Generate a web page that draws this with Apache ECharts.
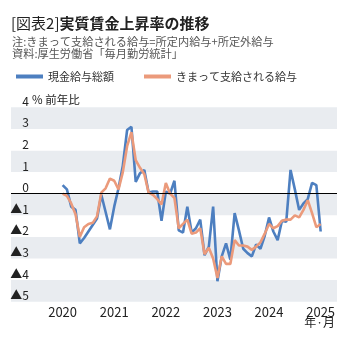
<!DOCTYPE html>
<html>
<head>
<meta charset="utf-8">
<script src="https://cdn.jsdelivr.net/npm/echarts@6/dist/echarts.min.js"></script>
<style>
  html, body { margin: 0; padding: 0; background: #fff; }
  #chart { width: 346px; height: 337px; }
</style>
</head>
<body>
<div id="chart"></div>
<script>
// Monthly series, Jan 2020 - Jan 2025 (year-on-year %, real terms)
const yearLabels = ['2020', '2021', '2022', '2023', '2024', '2025'];

// 現金給与総額
const totalCash = [
  0.4, 0.2, -0.6, -0.75, -2.3, -2.05, -1.75, -1.45, -1.15, -0.05, -0.85, -1.65,
  -0.6, 0.25, 1.3, 2.95, 3.1, 0.55, 0.95, 1.1, 0.05, 0.1, 0.1, -1.25,
  0.1, 0.0, 0.6, -1.7, -1.8, -0.6, -1.8, -1.6, -1.2, -2.85, -2.45, -0.6,
  -4.05, -2.9, -2.3, -3.05, -0.9, -1.7, -2.55, -2.75, -2.9, -2.35, -2.55, -1.95,
  -1.1, -1.75, -2.15, -1.25, -1.3, 1.1, 0.2, -0.75, -0.45, -0.25, 0.5, 0.4,
  -1.75
];

// きまって支給される給与
const regularPay = [
  0.0, -0.1, -0.45, -0.95, -2.0, -1.55, -1.4, -1.35, -1.05, 0.05, 0.25, 0.7,
  0.6, 0.2, 1.0, 2.2, 2.85, 1.55, 1.2, 0.9, 0.05, -0.05, -0.25, -0.5,
  0.5, 0.0, -0.2, -1.6, -1.4, -1.2, -1.85, -1.8, -1.6, -2.8, -2.5, -3.0,
  -3.9, -2.9, -3.25, -3.25, -2.15, -2.4, -2.4, -2.45, -2.6, -2.45, -2.25, -1.85,
  -1.4, -1.6, -1.5, -1.25, -1.2, -1.2, -1.0, -1.1, -0.75, -0.3, -0.9, -1.55,
  -1.4
];

const FONT = '"Noto Sans CJK JP", "Noto Sans", sans-serif';
const BLUE = '#4d7fc0';
const ORANGE = '#eb9a7b';

// month index (0 = Jan 2020) paired with value
const toPoints = arr => arr.map((v, i) => [i, v]);

const chart = echarts.init(document.getElementById('chart'), null, { renderer: 'canvas' });

chart.setOption({
  animation: false,
  backgroundColor: '#fff',
  textStyle: { fontFamily: FONT },
  title: [
    {
      left: 11, top: 16, padding: 0,
      text: '{a|[図表2]}{b|実質賃金上昇率の推移}',
      textStyle: {
        rich: {
          a: { fontFamily: FONT, fontSize: 15, fontWeight: 'normal', color: '#222' },
          b: { fontFamily: FONT, fontSize: 15, fontWeight: 'bold', color: '#222' }
        }
      }
    },
    {
      left: 12, top: 36, padding: 0,
      text: '注:きまって支給される給与=所定内給与+所定外給与\n資料:厚生労働省「毎月勤労統計」',
      textStyle: { fontFamily: FONT, fontSize: 11.2, fontWeight: 'normal', color: '#555', lineHeight: 12 }
    },
    {
      // unit caption beside the top tick label
      left: 32, top: 94, padding: 0,
      text: '% 前年比',
      textStyle: { fontFamily: FONT, fontSize: 11.5, fontWeight: 'normal', color: '#222' }
    },
    {
      // x-axis unit under the last year label
      right: 11, top: 316, padding: 0,
      text: '年·月',
      textStyle: { fontFamily: FONT, fontSize: 12, fontWeight: 'normal', color: '#222' }
    }
  ],
  legend: {
    left: 11, top: 66,
    icon: 'rect',
    itemWidth: 27, itemHeight: 4,
    itemGap: 30,
    textStyle: { fontFamily: FONT, fontSize: 11, color: '#333' },
    data: ['現金給与総額', 'きまって支給される給与']
  },
  grid: { left: 11, right: 9, top: 107.3, bottom: 35.3, containLabel: false, outerBoundsMode: 'none' },
  xAxis: {
    type: 'value',
    min: -12, max: 63.8, interval: 12,
    axisLine: { show: false, onZero: false },
    axisTick: { show: false },
    splitLine: { show: false },
    axisLabel: {
      margin: 4,
      fontFamily: FONT, fontSize: 13, color: '#222',
      showMaxLabel: false,
      formatter: v => (v >= 0 ? (yearLabels[v / 12] || '') : '')
    }
  },
  yAxis: {
    type: 'value',
    min: -5, max: 4, interval: 1,
    axisLine: { show: false },
    axisTick: { show: false },
    splitLine: { show: false },
    splitArea: { show: true, areaStyle: { color: ['#e9ecf0', '#ffffff'] } },
    axisLabel: {
      inside: true,
      margin: 18,
      align: 'right',
      verticalAlign: 'bottom',
      fontFamily: FONT, fontSize: 12, color: '#222',
      formatter: v => (v < 0 ? '▲' + (-v) : String(v))
    }
  },
  series: [
    {
      name: '現金給与総額',
      type: 'line',
      data: toPoints(totalCash),
      symbol: 'none',
      lineStyle: { color: BLUE, width: 2.6 },
      itemStyle: { color: BLUE },
      z: 2,
      markLine: {
        silent: true,
        symbol: 'none',
        label: { show: false },
        lineStyle: { color: '#000', width: 1, type: 'solid' },
        data: [{ yAxis: 0 }]
      }
    },
    {
      name: 'きまって支給される給与',
      type: 'line',
      data: toPoints(regularPay),
      symbol: 'none',
      lineStyle: { color: ORANGE, width: 2.6 },
      itemStyle: { color: ORANGE },
      z: 3
    }
  ]
});
</script>
</body>
</html>
